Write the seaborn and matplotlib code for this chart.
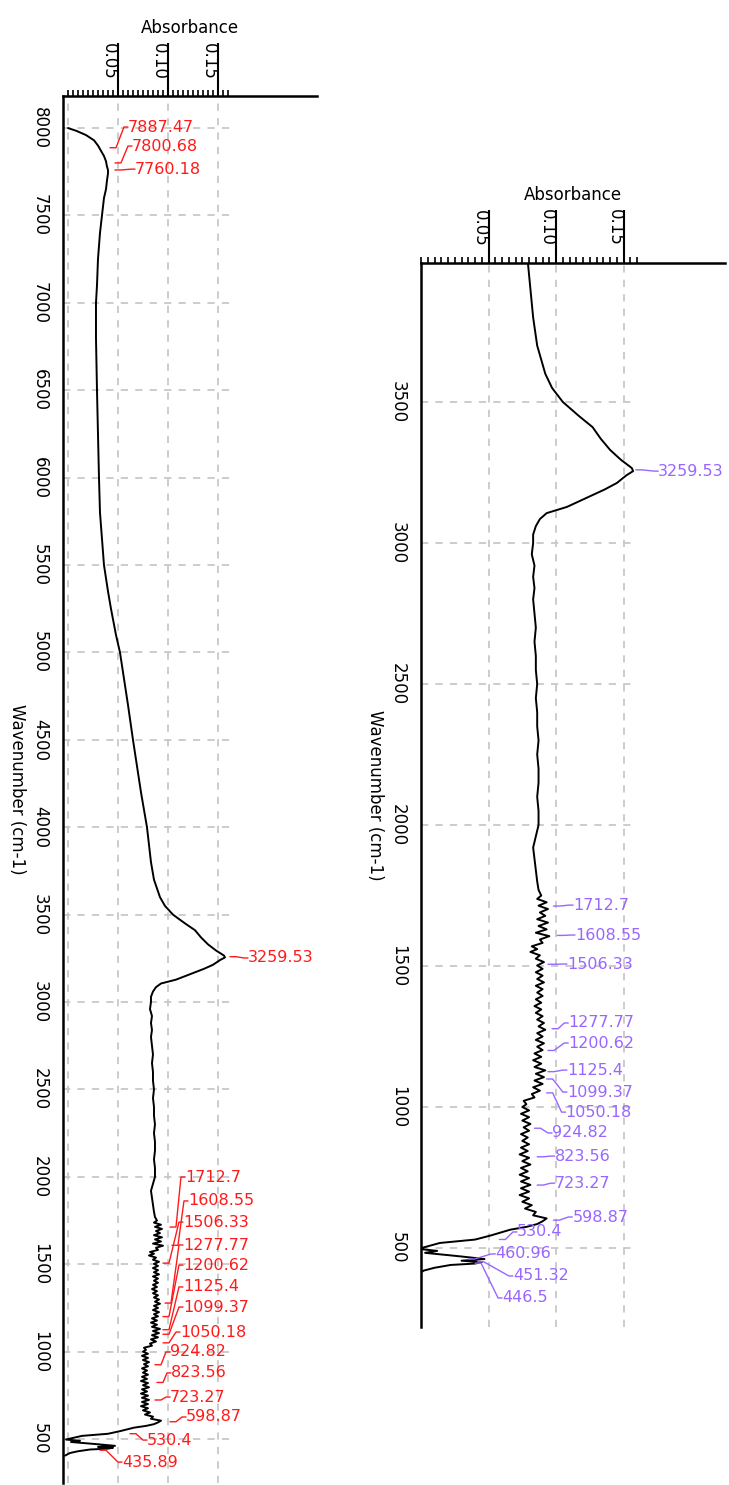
import numpy as np
import matplotlib
matplotlib.use("Agg")
import matplotlib.pyplot as plt
import seaborn as sns
from matplotlib.ticker import FixedLocator, MultipleLocator

# -------------------------------
# Spectrum, wavenumber in cm-1, absorbance
# -------------------------------
wavenumber = [
    8000, 7985, 7960, 7930, 7900, 7870, 7840, 7810, 7780, 7760, 7740, 7700, 7650,
    7600, 7500, 7400, 7250, 7100, 7000, 6800, 6500, 6250, 6000, 5800, 5650, 5500,
    5350, 5250, 5100, 5000, 4850, 4700, 4500, 4350, 4200, 4000, 3900, 3800, 3700,
    3600, 3550, 3500, 3450, 3411, 3370, 3330, 3295, 3266, 3255, 3240, 3213, 3190,
    3170, 3150, 3128, 3106, 3085, 3060, 3030, 3000, 2960, 2920, 2880, 2840, 2800,
    2750, 2700, 2650, 2600, 2550, 2500, 2450, 2400, 2350, 2300, 2250, 2200, 2150,
    2100, 2050, 2000, 1960, 1920, 1880, 1840, 1800, 1770, 1750,
    1738, 1726, 1714, 1702, 1690, 1678, 1666, 1654, 1642, 1630, 1618, 1606, 1594,
    1582, 1570, 1560, 1550, 1538, 1526, 1514, 1502, 1490, 1478, 1466, 1454, 1442,
    1430, 1418, 1406, 1394, 1382, 1370, 1358, 1346, 1334, 1322, 1310, 1298, 1286,
    1274, 1262, 1250, 1238, 1226, 1214, 1202, 1190, 1178, 1166, 1154, 1142, 1130,
    1118, 1106, 1094, 1082, 1070, 1058, 1046, 1034, 1022, 1010,
    1000, 988, 976, 964, 952, 940, 928, 916, 904, 892, 880, 868, 856, 844, 832,
    820, 808, 796, 784, 772, 760, 748, 736, 724, 712, 700, 688, 676, 664, 652,
    640, 628, 616, 605, 595, 585, 575, 565, 545, 530, 518, 505, 497, 490, 483,
    470, 461, 455, 450, 445, 440, 430, 420, 405,
]
absorbance = [
    0.000, 0.008, 0.018, 0.026, 0.030, 0.033, 0.036, 0.038, 0.039, 0.040, 0.040, 0.039, 0.038,
    0.036, 0.034, 0.032, 0.030, 0.029, 0.028, 0.028, 0.029, 0.030, 0.031, 0.032, 0.034, 0.036,
    0.040, 0.043, 0.048, 0.052, 0.056, 0.060, 0.065, 0.069, 0.073, 0.079, 0.081, 0.083, 0.086,
    0.092, 0.097, 0.105, 0.117, 0.127, 0.133, 0.140, 0.148, 0.156, 0.157, 0.152, 0.145, 0.136,
    0.127, 0.118, 0.108, 0.093, 0.088, 0.085, 0.083, 0.083, 0.082, 0.084, 0.083, 0.084, 0.083,
    0.084, 0.085, 0.084, 0.085, 0.085, 0.086, 0.085, 0.086, 0.086, 0.087, 0.086, 0.087, 0.087,
    0.086, 0.087, 0.087, 0.085, 0.083, 0.084, 0.085, 0.086, 0.087, 0.089,
    0.086, 0.093, 0.087, 0.094, 0.088, 0.092, 0.086, 0.094, 0.087, 0.093, 0.085, 0.095, 0.088,
    0.090, 0.082, 0.086, 0.081, 0.088, 0.085, 0.091, 0.086, 0.090, 0.085, 0.090, 0.086, 0.091,
    0.085, 0.090, 0.086, 0.090, 0.085, 0.089, 0.084, 0.089, 0.085, 0.090, 0.086, 0.091, 0.087,
    0.092, 0.086, 0.090, 0.085, 0.091, 0.086, 0.090, 0.084, 0.089, 0.083, 0.089, 0.084, 0.092,
    0.085, 0.091, 0.084, 0.090, 0.083, 0.088, 0.082, 0.084, 0.076, 0.078,
    0.075, 0.080, 0.074, 0.080, 0.075, 0.081, 0.076, 0.080, 0.074, 0.079, 0.075, 0.080, 0.074, 0.079, 0.073,
    0.080, 0.075, 0.081, 0.074, 0.079, 0.073, 0.080, 0.074, 0.081, 0.074, 0.080, 0.073, 0.080, 0.075, 0.082,
    0.077, 0.085, 0.083, 0.093, 0.090, 0.086, 0.078, 0.066, 0.052, 0.040, 0.014, 0.004, -0.002, 0.012, 0.003,
    0.030, 0.047, 0.030, 0.045, 0.040, 0.022, 0.010, 0.002, -0.003,
]

# -------------------------------
# Peak picks
# -------------------------------
left_peaks = ["7887.47", "7800.68", "7760.18", "3259.53", "1712.7", "1608.55", "1506.33",
              "1277.77", "1200.62", "1125.4", "1099.37", "1050.18", "924.82", "823.56",
              "723.27", "598.87", "530.4", "435.89"]
left_peak_abs = [0.042, 0.047, 0.047, 0.162, 0.102, 0.104, 0.095, 0.097, 0.095, 0.095,
                 0.095, 0.095, 0.087, 0.089, 0.087, 0.102, 0.062, 0.032]

right_peaks = ["3259.53", "1712.7", "1608.55", "1506.33", "1277.77", "1200.62", "1125.4",
               "1099.37", "1050.18", "924.82", "823.56", "723.27", "598.87", "530.4",
               "460.96", "451.32", "446.5"]
right_peak_abs = [0.159, 0.098, 0.101, 0.094, 0.097, 0.094, 0.094, 0.093, 0.093, 0.084,
                  0.086, 0.086, 0.098, 0.058, 0.035, 0.042, 0.040]

# label placement (layout, data coords: absorbance, wavenumber)
left_label_pos = [(0.060, 8006), (0.064, 7897), (0.067, 7765), (0.180, 3252),
                  (0.117, 1999), (0.120, 1862), (0.115, 1741), (0.115, 1610),
                  (0.115, 1495), (0.115, 1370), (0.115, 1255), (0.112, 1112),
                  (0.102, 998), (0.103, 878), (0.102, 740), (0.118, 626),
                  (0.079, 494), (0.054, 368)]
right_label_pos = [(0.1756, 3255), (0.1126, 1716), (0.114, 1610), (0.108, 1507),
                   (0.109, 1298), (0.109, 1227), (0.108, 1131), (0.108, 1053),
                   (0.107, 982), (0.097, 908), (0.099, 826), (0.099, 730),
                   (0.112, 610), (0.071, 557), (0.055, 479), (0.068, 401), (0.060, 323)]

sns.set_style("white")
plt.rcParams["font.family"] = ["DejaVu Sans"]
plt.rcParams.update({"text.color": "black", "axes.labelcolor": "black",
                     "xtick.color": "black", "ytick.color": "black"})

fig = plt.figure(figsize=(7.29, 14.85), dpi=100)
ax_left = fig.add_axes([0.0864, 0.0013, 0.3484, 0.934])
ax_right = fig.add_axes([0.5775, 0.1064, 0.417, 0.7165])

GRID = dict(color="#c8c8c8", lw=1.3, ls=(0, (4, 4)), zorder=0)


def draw_panel(ax, xlim, ylim, vgrid, hgrid_frac, peaks, tips, label_pos, color):
    sns.lineplot(x=absorbance, y=wavenumber, sort=False, estimator=None,
                 color="black", lw=1.4, ax=ax)
    ax.set_xlim(*xlim)
    ax.set_ylim(*ylim)

    # axes: top + left only
    for side in ["right", "bottom"]:
        ax.spines[side].set_visible(False)
    for side in ["top", "left"]:
        ax.spines[side].set_color("black")
        ax.spines[side].set_linewidth(1.8)

    ax.xaxis.tick_top()
    ax.xaxis.set_label_position("top")
    ax.set_xticks([0.05, 0.10, 0.15])
    ax.set_xticklabels(["0.05", "0.10", "0.15"])
    ax.xaxis.set_minor_locator(FixedLocator(np.arange(0, 0.1601, 0.005)))
    ax.tick_params(axis="x", which="major", length=38, width=1.5, pad=-26,
                   labelrotation=-90, labelsize=12, color="black", labelcolor="black")
    ax.tick_params(axis="x", which="minor", length=4, width=1.2, color="black")
    plt.setp(ax.get_xticklabels(), ha="right")

    ax.yaxis.set_major_locator(MultipleLocator(500))
    ax.yaxis.set_minor_locator(MultipleLocator(100))
    ax.tick_params(axis="y", which="major", length=5, width=1.5, pad=5,
                   labelrotation=-90, labelsize=12, color="black", labelcolor="black")
    ax.tick_params(axis="y", which="minor", length=3, width=1.2, color="black")
    plt.setp(ax.get_yticklabels(), va="center")

    ax.set_xlabel("Absorbance", fontsize=12, labelpad=7, color="black")
    ax.set_ylabel("Wavenumber (cm-1)", fontsize=12, rotation=-90, va="top",
                  labelpad=4, color="black")

    # dashed grid
    for gx in vgrid:
        ax.axvline(gx, **GRID)
    for gy in ax.get_yticks():
        if ylim[0] < gy < ylim[1]:
            ax.axhline(gy, xmin=0, xmax=hgrid_frac, **GRID)

    # peak labels with leader lines
    for txt, tip, pos in zip(peaks, tips, label_pos):
        ax.annotate(txt, xy=(tip, float(txt)), xytext=pos, textcoords="data",
                    color=color, fontsize=11.5, va="center", ha="left",
                    annotation_clip=False,
                    arrowprops=dict(arrowstyle="-", color=color, lw=1.0,
                                    shrinkA=0, shrinkB=0, relpos=(0, 0.5), patchA=None,
                                    connectionstyle="arc,angleA=180,angleB=0,armA=4,armB=6,rad=0"))


draw_panel(ax_left, (-0.005, 0.249), (248, 8183), [0.0, 0.05, 0.10, 0.15], 0.657,
           left_peaks, left_peak_abs, left_label_pos, "#ff1a1a")
draw_panel(ax_right, (0.0, 0.225), (220, 3993), [0.05, 0.10, 0.15], 0.71,
           right_peaks, right_peak_abs, right_label_pos, "#9966ff")

fig.savefig("out.png", dpi=100)
